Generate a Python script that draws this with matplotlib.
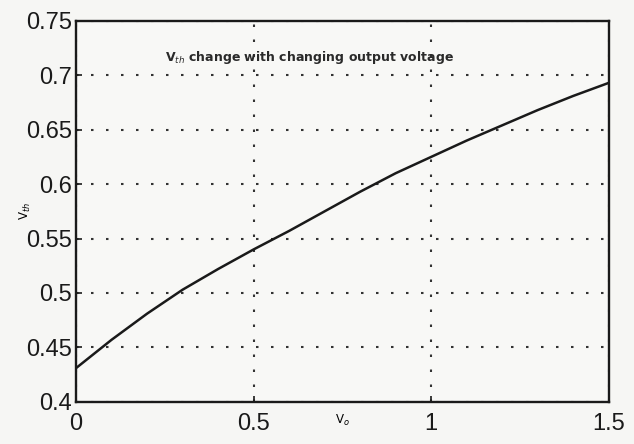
import matplotlib
matplotlib.use("Agg")
import matplotlib.pyplot as plt
import numpy as np

# values
vo = [0.0, 0.1, 0.2, 0.3, 0.4, 0.5, 0.6, 0.7, 0.8, 0.9, 1.0, 1.1, 1.2, 1.3, 1.4, 1.5]
vth = [0.431, 0.457, 0.481, 0.503, 0.522, 0.540, 0.557, 0.575, 0.593, 0.610,
       0.625, 0.640, 0.654, 0.668, 0.681, 0.693]

xticks = [0, 0.5, 1, 1.5]
xticklabels = ["0", "0.5", "1", "1.5"]
yticks = [0.4, 0.45, 0.5, 0.55, 0.6, 0.65, 0.7, 0.75]
yticklabels = ["0.4", "0.45", "0.5", "0.55", "0.6", "0.65", "0.7", "0.75"]

plt.rcParams['font.family'] = ['Liberation Sans', 'DejaVu Sans']

fig = plt.figure(figsize=(6.34, 4.44), dpi=100, facecolor='#f6f6f4')
ax = fig.add_axes([0.12, 0.095, 0.84, 0.858])
ax.set_facecolor('#f8f8f6')

ax.plot(vo, vth, color='#1a1a1a', linewidth=1.8)

ax.set_xlim(0, 1.5)
ax.set_ylim(0.4, 0.75)
ax.set_xticks(xticks)
ax.set_xticklabels(xticklabels)
ax.set_yticks(yticks)
ax.set_yticklabels(yticklabels)
ax.tick_params(axis='both', direction='in', length=4, width=1.2, labelsize=17, colors='#1a1a1a')
ax.tick_params(axis='x', pad=8)
ax.tick_params(axis='y', pad=3)

ax.grid(True, color='#333333', linestyle=(0, (1.2, 6)), linewidth=1.5)
for s in ax.spines.values():
    s.set_linewidth(1.7)
    s.set_color('#1a1a1a')

ax.text(0.25, 0.716, r"V$_{th}$ change with changing output voltage",
        fontsize=9, family='DejaVu Sans', fontweight='bold', color='#2a2a2a', va='center')

ax.set_xlabel(r"V$_o$", fontsize=8.5, family='DejaVu Sans')
ax.xaxis.set_label_coords(0.5, -0.03)
ax.set_ylabel(r"V$_{th}$", fontsize=8.5, family='DejaVu Sans')
ax.yaxis.set_label_coords(-0.08, 0.5)

fig.savefig("out.png", dpi=100, facecolor=fig.get_facecolor())
